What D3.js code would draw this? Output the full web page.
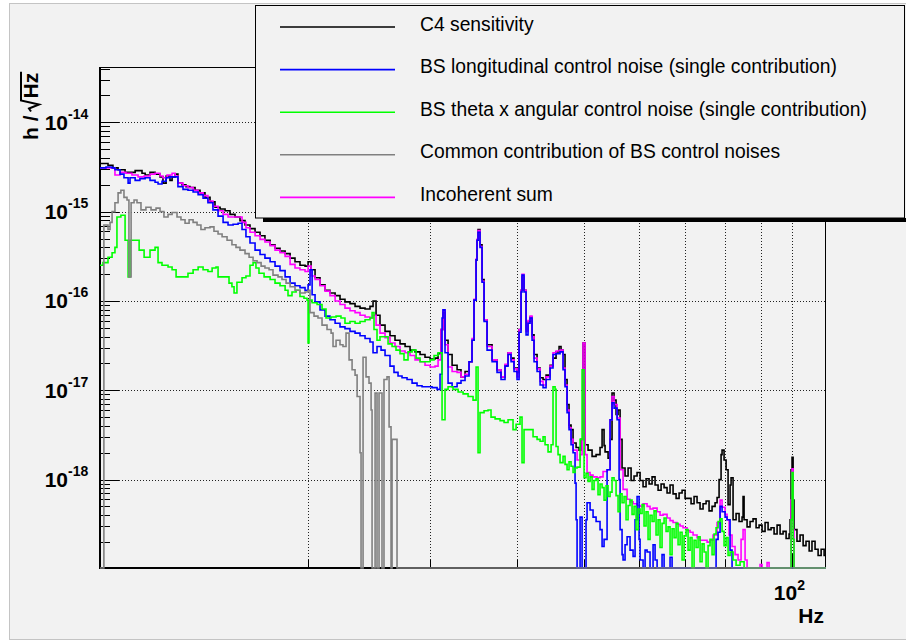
<!DOCTYPE html>
<html><head><meta charset="utf-8">
<script src="https://cdn.jsdelivr.net/npm/d3@7"></script>
<style>body{margin:0;background:#fff}svg{display:block}</style>
</head><body>
<svg id="c" width="906" height="641"></svg>
<script>
// ---------- data (frequency in Hz, value as log10 of h/sqrt(Hz); -20 = empty bin) ----------
const legendLabels = [
  "C4 sensitivity",
  "BS longitudinal control noise (single contribution)",
  "BS theta x angular control noise (single contribution)",
  "Common contribution of BS control noises",
  "Incoherent sum"
];
const yTickExponents = [-14, -15, -16, -17, -18];
const xGridHz = [20, 30, 40, 50, 60, 70, 80, 90, 100];
const xLabelHz = [100];

const c4Sensitivity = [[10.00,-14.46],[10.27,-14.48],[10.44,-14.51],[10.62,-14.53],[10.87,-14.56],[11.24,-14.54],[11.50,-14.57],[11.62,-14.59],[11.81,-14.56],[12.01,-14.58],[12.21,-14.61],[12.33,-14.68],[12.46,-14.60],[12.62,-14.65],[12.71,-14.61],[12.84,-14.58],[12.96,-14.68],[13.14,-14.70],[13.31,-14.72],[13.49,-14.73],[13.72,-14.76],[13.95,-14.79],[14.18,-14.84],[14.42,-14.89],[14.66,-14.95],[14.91,-14.97],[15.16,-14.99],[15.41,-15.03],[15.67,-15.06],[15.93,-15.10],[16.20,-15.15],[16.47,-15.19],[16.75,-15.23],[17.03,-15.27],[17.31,-15.32],[17.61,-15.37],[17.90,-15.41],[18.20,-15.44],[18.51,-15.47],[18.82,-15.52],[19.13,-15.56],[19.45,-15.60],[19.78,-15.61],[19.98,-15.56],[20.18,-15.65],[20.45,-15.74],[20.79,-15.82],[21.14,-15.88],[21.49,-15.91],[21.86,-15.94],[22.22,-15.98],[22.59,-16.01],[22.97,-16.03],[23.36,-16.06],[23.75,-16.08],[24.15,-16.09],[24.55,-16.06],[24.80,-16.00],[25.05,-16.16],[25.38,-16.27],[25.81,-16.34],[26.24,-16.39],[26.68,-16.44],[27.13,-16.48],[27.59,-16.51],[28.05,-16.55],[28.52,-16.57],[29.00,-16.60],[29.48,-16.63],[29.98,-16.65],[30.48,-16.64],[30.79,-16.59],[31.09,-16.32],[31.30,-16.13],[31.51,-16.44],[31.83,-16.60],[32.26,-16.72],[32.80,-16.77],[33.23,-16.85],[33.68,-16.79],[34.13,-16.68],[34.47,-16.44],[34.70,-15.99],[34.94,-15.54],[35.05,-15.32],[35.17,-15.20],[35.40,-15.37],[35.64,-15.76],[35.88,-16.21],[36.24,-16.49],[36.85,-16.66],[37.46,-16.77],[37.96,-16.85],[38.47,-16.72],[38.86,-16.58],[39.25,-16.64],[39.64,-16.75],[40.04,-16.80],[40.31,-16.32],[40.58,-15.88],[40.71,-15.73],[40.98,-15.88],[41.26,-16.32],[41.53,-16.23],[41.81,-16.18],[42.09,-16.38],[42.37,-16.60],[42.80,-16.75],[43.23,-16.86],[43.66,-16.88],[44.10,-16.83],[44.69,-16.72],[45.13,-16.64],[45.59,-16.57],[46.05,-16.51],[46.35,-16.55],[46.66,-16.60],[46.97,-16.88],[47.29,-17.16],[47.60,-17.39],[47.92,-17.44],[48.24,-17.59],[48.73,-17.64],[49.21,-17.67],[49.54,-17.55],[49.87,-16.47],[50.21,-17.61],[50.71,-17.67],[51.39,-17.74],[52.08,-17.72],[52.77,-17.64],[53.13,-17.44],[53.48,-17.62],[53.66,-17.69],[54.20,-17.76],[54.56,-17.55],[54.92,-17.03],[55.29,-17.11],[55.66,-17.27],[56.03,-17.22],[56.41,-17.55],[56.78,-17.87],[57.35,-17.96],[57.93,-17.87],[58.51,-18.01],[59.09,-17.96],[59.69,-17.92],[60.29,-18.01],[60.89,-18.08],[61.50,-17.99],[62.12,-18.05],[62.74,-17.97],[63.37,-18.06],[64.01,-18.12],[64.65,-18.05],[65.30,-18.09],[65.95,-18.15],[66.61,-18.06],[67.28,-18.16],[67.96,-18.21],[68.64,-18.15],[69.33,-18.12],[70.02,-18.21],[70.72,-18.21],[71.43,-18.27],[72.15,-18.19],[72.87,-18.26],[73.60,-18.33],[74.34,-18.27],[75.09,-18.24],[75.84,-18.35],[76.60,-18.30],[77.37,-18.26],[77.89,-18.20],[78.41,-18.00],[78.93,-17.72],[79.19,-17.67],[79.72,-17.78],[80.26,-17.89],[80.79,-18.28],[81.33,-18.06],[81.60,-17.98],[82.14,-18.45],[82.97,-18.38],[83.80,-18.47],[84.64,-18.42],[84.92,-18.19],[85.21,-18.45],[86.06,-18.53],[86.92,-18.47],[87.79,-18.44],[88.68,-18.54],[89.57,-18.51],[90.46,-18.58],[91.37,-18.48],[92.29,-18.56],[93.21,-18.54],[94.15,-18.61],[95.10,-18.51],[96.05,-18.61],[97.01,-18.58],[97.99,-18.66],[98.97,-18.61],[99.30,-18.45],[99.62,-17.89],[99.95,-17.75],[100.3,-18.23],[100.6,-18.56],[101.6,-18.69],[102.65,-18.62],[103.7,-18.74],[104.7,-18.69],[105.8,-18.80],[106.8,-18.69],[107.9,-18.78],[109.0,-18.85],[110.1,-18.78],[111.2,-18.85],[111.9,-18.80]];

const bsLongitudinal = [[10.00,-14.51],[10.20,-14.50],[10.41,-14.51],[10.51,-14.53],[10.69,-14.58],[10.83,-14.62],[10.98,-14.68],[11.05,-14.62],[11.24,-14.65],[11.42,-14.63],[11.62,-14.62],[11.81,-14.65],[12.01,-14.67],[12.13,-14.69],[12.29,-14.66],[12.46,-14.62],[12.62,-14.61],[12.84,-14.61],[12.96,-14.72],[13.18,-14.75],[13.40,-14.76],[13.63,-14.78],[13.86,-14.81],[14.09,-14.85],[14.32,-14.90],[14.56,-14.98],[14.81,-15.05],[15.06,-15.12],[15.31,-15.15],[15.57,-15.14],[15.83,-15.13],[16.04,-15.20],[16.25,-15.28],[16.47,-15.35],[16.75,-15.43],[17.03,-15.48],[17.31,-15.52],[17.61,-15.56],[17.90,-15.61],[18.20,-15.66],[18.51,-15.73],[18.82,-15.80],[19.13,-15.83],[19.45,-15.85],[19.78,-15.88],[19.98,-15.82],[20.11,-15.65],[20.25,-15.93],[20.45,-16.01],[20.79,-16.10],[21.14,-16.17],[21.49,-16.21],[21.86,-16.25],[22.22,-16.29],[22.59,-16.31],[22.97,-16.34],[23.36,-16.36],[23.75,-16.39],[24.15,-16.42],[24.55,-16.46],[24.80,-16.58],[25.13,-16.51],[25.47,-16.55],[25.81,-16.61],[26.24,-16.73],[26.59,-16.80],[26.95,-16.84],[27.31,-16.86],[27.77,-16.88],[28.24,-16.92],[28.71,-16.95],[29.19,-16.96],[29.68,-16.96],[30.18,-16.97],[30.69,-16.99],[30.99,-16.82],[31.20,-16.19],[31.30,-16.10],[31.51,-16.58],[31.83,-16.92],[32.26,-16.96],[32.80,-16.92],[33.23,-16.89],[33.68,-16.84],[34.13,-16.68],[34.47,-16.44],[34.70,-15.99],[34.94,-15.54],[35.05,-15.32],[35.17,-15.23],[35.40,-15.40],[35.64,-15.79],[35.88,-16.23],[36.24,-16.55],[36.85,-16.68],[37.46,-16.80],[37.96,-16.88],[38.47,-16.73],[38.86,-16.60],[39.25,-16.68],[39.64,-16.79],[40.04,-16.88],[40.31,-16.35],[40.58,-15.90],[40.71,-15.71],[40.98,-15.90],[41.26,-16.38],[41.53,-16.25],[41.81,-16.19],[42.09,-16.44],[42.37,-16.68],[42.80,-16.79],[43.23,-16.94],[43.66,-16.97],[44.10,-16.88],[44.69,-16.75],[45.13,-16.60],[45.59,-16.59],[46.20,-16.57],[46.66,-16.77],[46.97,-16.96],[47.29,-17.25],[47.60,-17.44],[47.92,-17.61],[48.24,-17.70],[48.56,-18.04],[48.73,-18.45],[48.89,-20],[49.38,-18.42],[49.71,-20],[50.37,-18.45],[50.54,-18.26],[51.05,-18.34],[51.56,-18.42],[52.08,-18.47],[52.77,-18.56],[53.13,-18.75],[53.48,-18.67],[54.02,-17.89],[54.56,-17.33],[54.92,-17.14],[55.29,-17.20],[55.85,-17.33],[56.22,-18.00],[56.41,-18.56],[56.78,-18.84],[56.97,-18.90],[57.35,-18.73],[57.74,-18.64],[58.31,-18.79],[58.90,-18.86],[59.29,-18.45],[59.69,-18.19],[60.09,-18.67],[60.29,-18.90],[60.89,-20],[61.30,-18.79],[61.71,-18.81],[62.32,-20],[62.95,-18.73],[63.37,-18.90],[63.80,-20],[64.86,-18.84],[65.30,-20],[66.61,-18.87],[67.06,-20],[77.11,-20],[77.63,-18.67],[78.15,-18.59],[78.67,-18.30],[79.19,-18.36],[79.99,-18.42],[80.52,-18.45],[81.33,-18.79],[81.87,-20],[111.9,-20]];

const bsThetaX = [[10.00,-15.60],[10.10,-15.57],[10.27,-15.51],[10.41,-15.46],[10.51,-15.40],[10.58,-15.06],[10.72,-15.04],[10.87,-15.32],[10.98,-15.73],[11.05,-15.32],[11.27,-15.32],[11.39,-15.43],[11.58,-15.51],[11.81,-15.43],[12.01,-15.40],[12.13,-15.57],[12.29,-15.60],[12.54,-15.62],[12.71,-15.65],[12.88,-15.73],[13.14,-15.73],[13.40,-15.69],[13.63,-15.65],[13.86,-15.62],[14.09,-15.65],[14.32,-15.67],[14.52,-15.63],[14.71,-15.62],[14.81,-15.73],[15.11,-15.73],[15.36,-15.80],[15.51,-15.84],[15.62,-15.91],[15.77,-15.79],[16.04,-15.74],[16.25,-15.72],[16.47,-15.60],[16.64,-15.57],[16.80,-15.63],[16.97,-15.69],[17.26,-15.73],[17.61,-15.76],[17.90,-15.80],[18.20,-15.83],[18.51,-15.88],[18.69,-15.94],[18.94,-15.90],[19.20,-15.88],[19.45,-15.95],[19.71,-15.97],[19.91,-15.99],[19.98,-16.47],[20.04,-15.99],[20.25,-16.02],[20.59,-16.04],[20.93,-16.09],[21.21,-16.19],[21.57,-16.18],[21.93,-16.17],[22.29,-16.19],[22.59,-16.25],[22.97,-16.23],[23.36,-16.25],[23.75,-16.23],[24.15,-16.21],[24.55,-16.19],[24.72,-16.13],[24.88,-16.32],[25.13,-16.44],[25.38,-16.40],[25.72,-16.40],[26.07,-16.48],[26.42,-16.51],[26.77,-16.55],[27.13,-16.59],[27.49,-16.66],[27.86,-16.57],[28.24,-16.55],[28.62,-16.64],[29.00,-16.68],[29.48,-16.68],[29.98,-16.66],[30.38,-16.61],[30.79,-16.58],[31.09,-16.58],[31.20,-17.33],[31.41,-17.33],[31.51,-16.99],[31.83,-16.96],[32.36,-16.99],[32.91,-17.02],[33.46,-17.04],[34.02,-17.07],[34.59,-17.11],[34.94,-16.74],[35.17,-17.70],[35.40,-17.25],[35.88,-17.23],[36.36,-17.22],[36.72,-17.30],[37.22,-17.32],[37.84,-17.34],[38.35,-17.36],[38.86,-17.33],[39.25,-17.33],[39.51,-17.44],[39.91,-17.38],[40.44,-17.30],[40.71,-17.81],[40.98,-17.44],[41.53,-17.44],[42.23,-17.52],[42.80,-17.55],[43.23,-17.57],[43.66,-17.52],[43.95,-17.61],[44.39,-17.69],[44.84,-17.61],[45.13,-16.96],[45.44,-16.99],[45.59,-17.63],[45.89,-17.72],[46.20,-17.81],[46.66,-17.74],[46.97,-17.83],[47.29,-17.89],[47.60,-17.80],[47.92,-17.85],[48.24,-17.92],[48.56,-17.87],[48.89,-17.86],[49.38,-17.55],[49.71,-16.77],[50.04,-17.98],[50.37,-17.93],[50.71,-18.02],[51.05,-17.97],[51.39,-18.11],[51.73,-18.01],[52.08,-17.99],[52.42,-18.17],[52.77,-18.05],[53.13,-18.09],[53.48,-18.23],[53.84,-18.07],[54.20,-18.19],[54.56,-18.14],[54.92,-17.98],[55.29,-18.01],[55.66,-18.18],[56.03,-18.36],[56.41,-18.16],[56.78,-18.26],[57.16,-18.19],[57.54,-18.45],[57.93,-18.29],[58.31,-18.23],[58.70,-18.39],[59.09,-18.30],[59.49,-18.56],[59.89,-18.33],[60.29,-18.38],[60.69,-18.28],[61.09,-18.52],[61.50,-18.36],[61.91,-18.67],[62.32,-18.40],[62.74,-18.47],[63.16,-18.35],[63.58,-18.62],[64.01,-18.45],[64.43,-18.76],[64.86,-18.49],[65.30,-18.43],[65.73,-18.58],[66.17,-18.53],[66.61,-18.84],[67.06,-18.55],[67.50,-18.65],[67.96,-18.49],[68.41,-18.73],[68.87,-18.59],[69.33,-18.90],[69.79,-18.63],[70.26,-18.56],[70.72,-18.79],[71.20,-18.65],[71.67,-20],[72.15,-18.68],[72.63,-18.76],[73.12,-18.64],[73.60,-18.92],[74.10,-18.72],[74.59,-18.81],[75.09,-20],[75.59,-18.74],[76.09,-18.67],[76.60,-18.84],[77.11,-18.61],[77.63,-18.54],[78.15,-18.47],[78.67,-18.44],[79.19,-18.58],[79.72,-18.74],[80.26,-18.65],[80.79,-18.85],[81.33,-18.81],[82.14,-18.90],[82.97,-18.96],[84.08,-18.92],[85.21,-20],[99.62,-18.45],[99.95,-17.92],[100.3,-18.67],[100.6,-20],[111.9,-20]];

const bsCommon = [[10.00,-20],[10.13,-15.15],[10.27,-15.20],[10.34,-15.12],[10.41,-15.00],[10.51,-14.90],[10.62,-14.79],[10.72,-14.76],[10.83,-14.84],[10.94,-14.87],[11.01,-15.73],[11.09,-14.90],[11.20,-14.87],[11.31,-14.90],[11.46,-14.98],[11.65,-14.95],[11.85,-14.98],[12.05,-14.96],[12.21,-15.00],[12.37,-15.06],[12.54,-15.03],[12.71,-15.01],[12.92,-15.06],[13.09,-15.09],[13.27,-15.13],[13.45,-15.09],[13.63,-15.12],[13.81,-15.15],[13.99,-15.20],[14.18,-15.18],[14.42,-15.17],[14.61,-15.22],[14.81,-15.25],[15.01,-15.28],[15.26,-15.32],[15.51,-15.37],[15.72,-15.40],[15.93,-15.43],[16.20,-15.47],[16.42,-15.51],[16.64,-15.55],[16.86,-15.57],[17.09,-15.61],[17.31,-15.63],[17.55,-15.65],[17.78,-15.71],[18.08,-15.73],[18.32,-15.76],[18.57,-15.80],[18.82,-15.84],[19.13,-15.88],[19.45,-15.91],[19.78,-15.90],[19.98,-15.88],[20.11,-16.13],[20.38,-16.17],[20.65,-16.19],[20.93,-16.27],[21.28,-16.32],[21.57,-16.36],[21.71,-16.51],[21.93,-16.44],[22.22,-16.49],[22.44,-16.51],[22.67,-16.36],[22.90,-16.66],[23.13,-16.77],[23.36,-16.83],[23.52,-17.07],[23.75,-17.70],[23.83,-20],[23.99,-16.63],[24.23,-16.85],[24.47,-16.92],[24.64,-17.22],[24.72,-20],[24.97,-17.03],[25.13,-20],[25.30,-17.03],[25.55,-20],[25.72,-16.88],[25.98,-16.85],[26.16,-17.41],[26.33,-20],[26.42,-17.55],[26.77,-17.55],[26.86,-20],[111.9,-20]];

const incoherentSum = [[10.00,-14.51],[10.27,-14.51],[10.51,-14.59],[10.69,-14.56],[10.90,-14.57],[11.12,-14.59],[11.35,-14.61],[11.58,-14.60],[11.81,-14.58],[12.01,-14.57],[12.21,-14.60],[12.33,-14.62],[12.50,-14.59],[12.71,-14.57],[12.84,-14.60],[12.96,-14.68],[13.18,-14.71],[13.40,-14.73],[13.63,-14.76],[13.86,-14.79],[14.09,-14.82],[14.32,-14.88],[14.56,-14.94],[14.81,-14.99],[15.06,-15.03],[15.31,-15.06],[15.57,-15.06],[15.83,-15.06],[16.04,-15.12],[16.25,-15.18],[16.47,-15.23],[16.75,-15.27],[17.03,-15.31],[17.31,-15.34],[17.61,-15.38],[17.90,-15.43],[18.20,-15.46],[18.51,-15.50],[18.82,-15.59],[19.13,-15.63],[19.45,-15.65],[19.78,-15.67],[19.98,-15.61],[20.18,-15.72],[20.45,-15.76],[20.79,-15.83],[21.14,-15.89],[21.49,-15.94],[21.86,-16.00],[22.22,-16.04],[22.59,-16.08],[22.97,-16.11],[23.36,-16.13],[23.75,-16.16],[24.15,-16.18],[24.55,-16.19],[24.80,-16.16],[25.05,-16.27],[25.38,-16.36],[25.81,-16.41],[26.24,-16.47],[26.68,-16.51],[27.13,-16.56],[27.59,-16.58],[28.05,-16.61],[28.52,-16.66],[29.00,-16.68],[29.48,-16.72],[29.98,-16.74],[30.48,-16.73],[30.79,-16.66],[31.09,-16.32],[31.30,-16.10],[31.51,-16.49],[31.83,-16.74],[32.26,-16.79],[32.80,-16.80],[33.23,-16.85],[33.68,-16.82],[34.13,-16.68],[34.47,-16.42],[34.70,-15.98],[34.94,-15.53],[35.05,-15.31],[35.17,-15.21],[35.40,-15.39],[35.64,-15.78],[35.88,-16.21],[36.24,-16.51],[36.85,-16.66],[37.46,-16.77],[37.96,-16.85],[38.47,-16.71],[38.86,-16.58],[39.25,-16.66],[39.64,-16.76],[40.04,-16.85],[40.31,-16.32],[40.58,-15.88],[40.71,-15.70],[40.98,-15.88],[41.26,-16.34],[41.53,-16.22],[41.81,-16.17],[42.09,-16.40],[42.37,-16.64],[42.80,-16.76],[43.23,-16.90],[43.66,-16.94],[44.10,-16.85],[44.69,-16.73],[45.13,-16.58],[45.59,-16.56],[46.20,-16.55],[46.66,-16.75],[46.97,-16.94],[47.29,-17.22],[47.60,-17.42],[47.92,-17.55],[48.24,-17.67],[48.89,-17.78],[49.38,-17.72],[49.71,-17.55],[49.87,-16.47],[50.21,-17.72],[50.54,-17.92],[51.05,-17.95],[51.56,-17.97],[52.25,-17.98],[52.77,-17.97],[53.30,-17.91],[54.02,-17.89],[54.56,-17.33],[54.92,-17.07],[55.29,-17.16],[55.85,-17.31],[56.41,-17.89],[56.97,-18.11],[57.74,-18.22],[58.31,-18.25],[58.90,-18.27],[59.69,-18.29],[60.29,-18.30],[60.89,-18.27],[61.71,-18.30],[62.32,-18.33],[62.95,-18.32],[63.80,-18.36],[64.43,-18.40],[65.08,-18.39],[65.95,-18.43],[66.61,-18.46],[67.28,-18.48],[68.18,-18.50],[68.87,-18.52],[69.55,-18.54],[70.49,-18.57],[71.20,-18.59],[71.91,-18.62],[72.87,-18.65],[73.60,-18.68],[74.34,-18.68],[75.34,-18.70],[76.09,-18.68],[76.85,-18.62],[77.89,-18.48],[78.67,-18.23],[79.19,-18.31],[79.99,-18.39],[80.52,-18.45],[81.06,-18.62],[81.87,-18.75],[82.69,-18.84],[83.52,-18.90],[84.36,-18.67],[84.92,-18.56],[85.49,-18.90],[86.06,-20],[89.86,-18.95],[90.46,-20],[91.98,-18.93],[92.60,-20],[99.62,-18.23],[99.95,-17.88],[100.3,-18.56],[100.6,-20],[111.9,-20]];

// ---------- styles ----------
const legendColors = ["#000000", "#0000ff", "#00ff00", "#808080", "#ff00ff"];
const legendSeries = [c4Sensitivity, bsLongitudinal, bsThetaX, bsCommon, incoherentSum];
const drawOrder = [0, 4, 1, 2, 3];
const FONT = "'Liberation Sans', Arial, Helvetica, sans-serif";

const svg = d3.select("#c");
const W = 906, H = 641;
const L = 100, R = 826, T = 67, B = 568;

svg.append("rect").attr("width", W).attr("height", H).attr("fill", "#ffffff");
svg.append("rect").attr("x", 9.5).attr("y", 3.5).attr("width", W).attr("height", 636)
  .attr("fill", "#f2f2f2").attr("stroke", "#c4c4c4");

const x = d3.scaleLog().domain([10, 111.9]).range([L, R]);
const y = d3.scaleLog().domain([Math.pow(10, -18.99), Math.pow(10, -13.38)]).range([B, T]).clamp(true);
const yv = e => y(Math.pow(10, e));

// grid
const grid = svg.append("g").attr("stroke", "#222").attr("stroke-width", 1).attr("stroke-dasharray", "1,2");
yTickExponents.forEach(e => {
  const yy = Math.round(yv(e)) + 0.5;
  grid.append("line").attr("x1", L + 19).attr("x2", R).attr("y1", yy).attr("y2", yy);
});
xGridHz.forEach(f => {
  const xx = Math.round(x(f)) + 0.5;
  grid.append("line").attr("x1", xx).attr("x2", xx).attr("y1", T).attr("y2", B - 8);
});

// frame and axes
svg.append("rect").attr("x", L + 0.5).attr("y", T + 0.5).attr("width", R - L - 1).attr("height", B - T - 1)
  .attr("fill", "none").attr("stroke", "#000").attr("stroke-width", 1);
svg.append("line").attr("x1", L).attr("x2", L).attr("y1", T).attr("y2", B + 1).attr("stroke", "#000").attr("stroke-width", 2);
svg.append("line").attr("x1", L - 1).attr("x2", R).attr("y1", B).attr("y2", B).attr("stroke", "#000").attr("stroke-width", 2);

// y ticks
const ticks = svg.append("g").attr("stroke", "#000").attr("stroke-width", 1);
const [d0, d1] = y.domain();
for (let e = -19; e <= -13; e++) {
  for (let k = 1; k <= 9; k++) {
    const v = k * Math.pow(10, e);
    if (v < d0 || v > d1) continue;
    const yy = Math.round(y(v)) + 0.5;
    ticks.append("line").attr("x1", L).attr("x2", L + (k === 1 ? 19 : 10)).attr("y1", yy).attr("y2", yy);
  }
}
// x ticks
xGridHz.forEach(f => {
  const xx = Math.round(x(f)) + 0.5;
  ticks.append("line").attr("x1", xx).attr("x2", xx).attr("y1", B).attr("y2", B - (f === 100 ? 14 : 8));
});

// y labels
yTickExponents.forEach(e => {
  const yy = yv(e);
  svg.append("text").attr("x", 68).attr("y", yy + 7.5).attr("text-anchor", "end")
    .attr("font-family", FONT).attr("font-weight", "bold").attr("font-size", 21).text("10");
  svg.append("text").attr("x", 68).attr("y", yy - 3.5).attr("text-anchor", "start")
    .attr("font-family", FONT).attr("font-weight", "bold").attr("font-size", 14).text(String(e));
});
// x labels
xLabelHz.forEach(f => {
  const xx = x(f);
  svg.append("text").attr("x", xx + 5).attr("y", 600).attr("text-anchor", "end")
    .attr("font-family", FONT).attr("font-weight", "bold").attr("font-size", 21).text("10");
  svg.append("text").attr("x", xx + 5).attr("y", 590).attr("text-anchor", "start")
    .attr("font-family", FONT).attr("font-weight", "bold").attr("font-size", 14).text(String(Math.round(Math.log10(f))));
});
svg.append("text").attr("x", 824).attr("y", 623).attr("text-anchor", "end")
  .attr("font-family", FONT).attr("font-weight", "bold").attr("font-size", 21).text("Hz");

// y title: h / sqrt(Hz)
{
  const g = svg.append("g");
  const t1 = g.append("text").attr("x", 0).attr("y", 0).attr("font-family", FONT)
    .attr("font-weight", "bold").attr("font-size", 21).text("h /");
  const l1 = t1.node().getComputedTextLength();
  const rx = l1 + 4;
  const t2 = g.append("text").attr("x", rx + 13).attr("y", 0).attr("font-family", FONT)
    .attr("font-weight", "bold").attr("font-size", 21).text("Hz");
  const l2 = t2.node().getComputedTextLength();
  const end = rx + 13 + l2 + 1;
  g.append("path").attr("d", `M${rx},-7 L${rx + 3},-9 L${rx + 7},1 L${rx + 11},-17 L${end},-17`)
    .attr("fill", "none").attr("stroke", "#000").attr("stroke-width", 2);
  g.attr("transform", `translate(38,${140}) rotate(-90)`);
}

// series
svg.append("clipPath").attr("id", "plotclip").append("rect")
  .attr("x", L).attr("y", T).attr("width", R - L).attr("height", B - T + 1);
const line = d3.line().x(d => x(d[0])).y(d => yv(d[1])).curve(d3.curveStepAfter);
const plot = svg.append("g").attr("clip-path", "url(#plotclip)");
drawOrder.forEach(i => {
  plot.append("path").datum(legendSeries[i]).attr("d", line)
    .attr("fill", "none").attr("stroke", legendColors[i]).attr("stroke-width", 1.6)
    .attr("stroke-linejoin", "miter");
});

// legend
const lg = svg.append("g");
lg.append("rect").attr("x", 263).attr("y", 218).attr("width", 650).attr("height", 4).attr("fill", "#000");
lg.append("rect").attr("x", 255.5).attr("y", 5.5).attr("width", 649).attr("height", 212.5)
  .attr("fill", "#f2f2f2").attr("stroke", "#000").attr("stroke-width", 1);
legendLabels.forEach((lab, i) => {
  const ly = 27 + i * 42.6;
  lg.append("line").attr("x1", 280).attr("x2", 395).attr("y1", ly).attr("y2", ly)
    .attr("stroke", legendColors[i]).attr("stroke-width", 1.6);
  lg.append("text").attr("x", 420).attr("y", ly + 3.5).attr("font-family", FONT)
    .attr("font-size", 19.3).attr("fill", "#000").text(lab);
});
</script>
</body></html>
